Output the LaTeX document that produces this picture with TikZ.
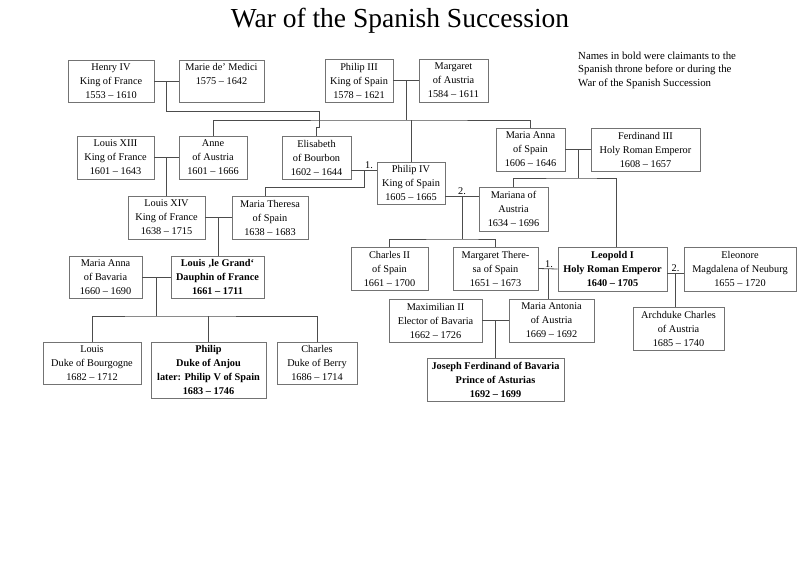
\documentclass[tikz,border=0pt]{standalone}
\usepackage{fontspec}
\setmainfont{Liberation Serif}
\usetikzlibrary{calc}

\tikzset{
  person/.style={draw=black!55, line width=0.8pt, align=center, inner sep=3pt,
    minimum height=43pt, font=\fontsize{10.3}{14}\selectfont},
  claimant/.style={person, font=\fontsize{10.3}{14}\selectfont\bfseries},
  link/.style={draw=black!70, line width=0.8pt},
  marriage/.style={font=\fontsize{10.3}{12}\selectfont, inner sep=1pt}
}

\begin{document}
\begin{tikzpicture}[x=1pt, y=-1pt]
  \useasboundingbox[fill=white] (0,0) rectangle (800,565);

  % Title and note
  \node[anchor=base, font=\fontsize{27.5}{30}\selectfont] (title) at (400, 27.5) {War of the Spanish Succession};
  \node[anchor=north west, align=left, inner sep=0pt, font=\fontsize{10.8}{13.5}\selectfont] (note) at (578, 51.6)
    {Names in bold were claimants to the\\Spanish throne before or during the\\War of the Spanish Succession};

  % First generation
  \node[person, minimum width=86pt, minimum height=42pt] (henry) at (111, 81) {Henry IV\\King of France\\1553 -- 1610};
  \node[person, minimum width=85pt, minimum height=42pt] (marie) at (221.5, 81) {Marie de' Medici\\1575 -- 1642\\~};
  \node[person, minimum width=68pt] (philipiii) at (359, 80.5) {Philip III\\King of Spain\\1578 -- 1621};
  \node[person, minimum width=69pt] (margaret) at (453.5, 80.5) {Margaret\\of Austria\\1584 -- 1611};

  % Second generation
  \node[person, minimum width=77pt] (louisxiii) at (115.5, 157.5) {Louis XIII\\King of France\\1601 -- 1643};
  \node[person, minimum width=68pt] (anne) at (213, 157.5) {Anne\\of Austria\\1601 -- 1666};
  \node[person, minimum width=69pt] (elisabeth) at (316.5, 157.5) {Elisabeth\\of Bourbon\\1602 -- 1644};
  \node[person, minimum width=68pt, minimum height=42pt] (philipiv) at (411, 183) {Philip IV\\King of Spain\\1605 -- 1665};
  \node[person, minimum width=69pt] (mariaanna) at (530.5, 149.5) {Maria Anna\\of Spain\\1606 -- 1646};
  \node[person, minimum width=109pt] (ferdinand) at (645.5, 149.5) {Ferdinand III\\Holy Roman Emperor\\1608 -- 1657};

  % Third generation
  \node[person, minimum width=77pt] (louisxiv) at (166.5, 217.5) {Louis XIV\\King of France\\1638 -- 1715};
  \node[person, minimum width=76pt] (theresa) at (270, 217.5) {Maria Theresa\\of Spain\\1638 -- 1683};
  \node[person, minimum width=69pt, minimum height=44pt] (mariana) at (513.5, 209) {Mariana of\\Austria\\1634 -- 1696};

  % Fourth generation
  \node[person, minimum width=73pt, minimum height=42pt] (annabav) at (105.5, 277) {Maria Anna\\of Bavaria\\1660 -- 1690};
  \node[claimant, minimum width=93pt, minimum height=42pt] (dauphin) at (217.5, 277) {Louis ‚le Grand‘\\Dauphin of France\\1661 -- 1711};
  \node[person, minimum width=77pt] (charlesii) at (389.5, 268.5) {Charles II\\of Spain\\1661 -- 1700};
  \node[person, minimum width=85pt] (margtheresa) at (495.5, 268.5) {Margaret There-\\sa of Spain\\1651 -- 1673};
  \node[claimant, minimum width=109pt, minimum height=44pt] (leopold) at (612.5, 269) {Leopold I\\Holy Roman Emperor\\1640 -- 1705};
  \node[person, minimum width=112pt, minimum height=44pt] (eleonore) at (740, 269) {Eleonore\\Magdalena of Neuburg\\1655 -- 1720};

  % Fifth generation
  \node[person, minimum width=93pt] (maximilian) at (435.5, 320.5) {Maximilian II\\Elector of Bavaria\\1662 -- 1726};
  \node[person, minimum width=85pt] (antonia) at (551.5, 320.5) {Maria Antonia\\of Austria\\1669 -- 1692};
  \node[person, minimum width=91pt] (archduke) at (678.5, 328.5) {Archduke Charles\\of Austria\\1685 -- 1740};
  \node[claimant, minimum width=137pt] (joseph) at (495.5, 379.5) {Joseph Ferdinand of Bavaria\\Prince of Asturias\\1692 -- 1699};
  \node[person, minimum width=98pt, minimum height=42pt] (louis) at (92, 363) {Louis\\Duke of Bourgogne\\1682 -- 1712};
  \node[claimant, minimum width=115pt, minimum height=56pt] (philip) at (208.5, 370) {Philip\\Duke of Anjou\\later: Philip V of Spain\\1683 -- 1746};
  \node[person, minimum width=80pt, minimum height=42pt] (charles) at (317, 363) {Charles\\Duke of Berry\\1686 -- 1714};

  % Marriages
  \draw[link] (henry.east) -- (marie.west);
  \draw[link] (philipiii.east) -- (margaret.west);
  \draw[link] (louisxiii.east) -- (anne.west);
  \draw[link] (mariaanna.east) -- (ferdinand.west);
  \draw[link] (louisxiv.east) -- (theresa.west);
  \draw[link] (annabav.east) -- (dauphin.west);
  \draw[link] (margtheresa.east) -- (leopold.west);
  \draw[link] (maximilian.east) -- (antonia.west);

  \coordinate (m1) at ($(elisabeth.east)!.5!(philipiv.west)$);
  \coordinate (m2) at ($(philipiv.east)!.5!(mariana.west)$);
  \coordinate (m3) at ($(margtheresa.east)!.5!(leopold.west)$);
  \coordinate (m4) at ($(leopold.east)!.5!(eleonore.west) + (0,4)$);
  \draw[link] (elisabeth.east |- m1) -- (philipiv.west |- m1);
  \draw[link] (philipiv.east |- m2) -- (mariana.west |- m2);
  \draw[link] (leopold.east |- m4) -- (eleonore.west |- m4);
  \node[marriage, anchor=south west] (n1) at (m1) {1.};
  \node[marriage, anchor=south] (n2) at (m2) {2.};
  \node[marriage, anchor=south] (n3) at ([xshift=1pt]m3) {1.};
  \node[marriage, anchor=south] (n4) at (m4) {2.};

  % Children
  \draw[link] ($(henry.east)!.5!(marie.west)$) -- ++(0, 30) -- ++(152.5, 0) -- ++(0, 16) -| (elisabeth.north);

  \coordinate (p3) at ($(philipiii.east)!.5!(margaret.west) + (0, 39.5)$);
  \draw[link] ($(philipiii.east)!.5!(margaret.west)$) -- (p3);
  \draw[link] (anne.north) |- (p3) -| (mariaanna.north);
  \draw[link] (p3 -| philipiv.north) -- (philipiv.north);

  \coordinate (f3) at ($(mariaanna.east)!.5!(ferdinand.west) + (0, 28.5)$);
  \draw[link] ($(mariaanna.east)!.5!(ferdinand.west)$) -- (f3);
  \draw[link] (mariana.north) |- (f3) -| ([xshift=3.5pt]leopold.north);

  \draw[link] ($(louisxiii.east)!.5!(anne.west)$) -- (louisxiv.north);
  \draw[link] (m1) -- ++(0, 16.75) -| ([xshift=-5pt]theresa.north);

  \coordinate (p4) at ($(m2) + (0, 43)$);
  \draw[link] (m2) -- (p4);
  \draw[link] (charlesii.north) |- (p4) -| (margtheresa.north);

  \draw[link] ($(louisxiv.east)!.5!(theresa.west)$) coordinate (l14) -- (l14 |- dauphin.north);

  \coordinate (d1) at ($(annabav.east)!.5!(dauphin.west) + (0, 39)$);
  \draw[link] ($(annabav.east)!.5!(dauphin.west)$) -- (d1);
  \draw[link] (louis.north) |- (d1) -| (charles.north);
  \draw[link] (d1 -| philip.north) -- (philip.north);

  \draw[link] (m3) -- (m3 |- antonia.north);
  \draw[link] (m4) -- (m4 |- archduke.north);
  \draw[link] ($(maximilian.east)!.5!(antonia.west)$) coordinate (mx) -- (mx |- joseph.north);
\end{tikzpicture}
\end{document}
